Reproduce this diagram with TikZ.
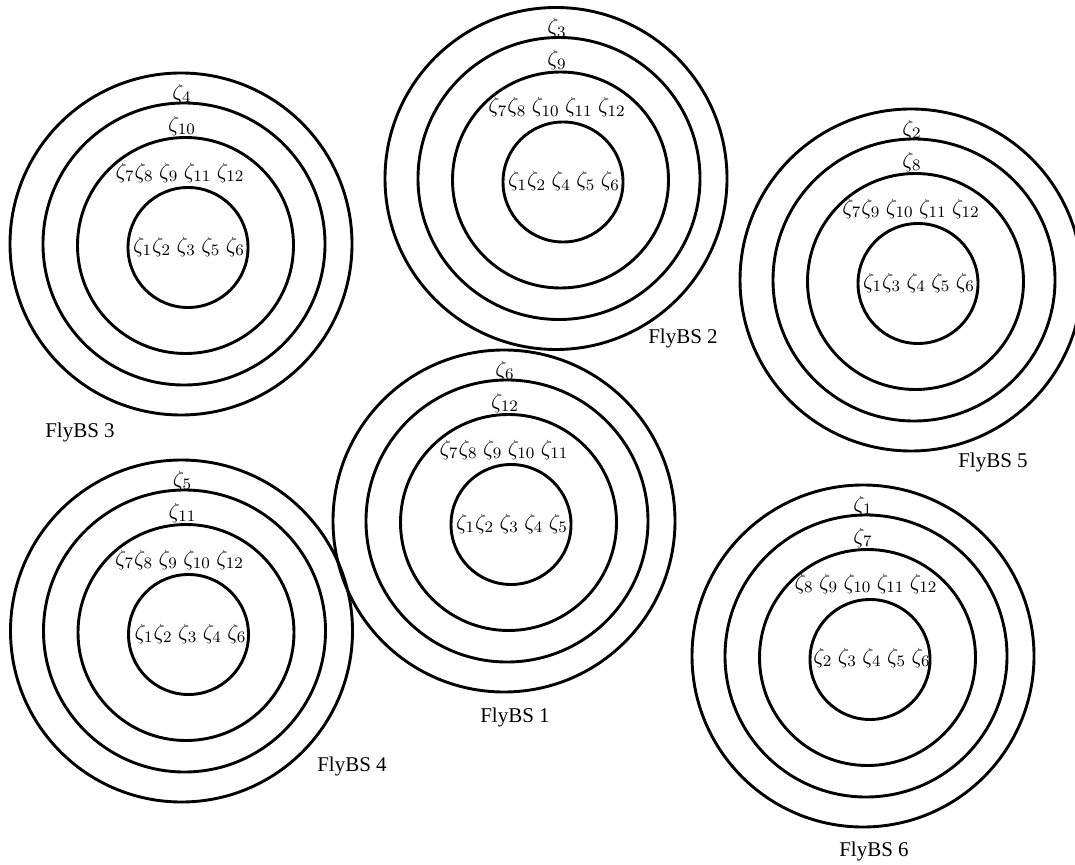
\documentclass[tikz,border=0pt]{standalone}
\usepackage{fontspec}
\setmainfont{Liberation Serif}
\usetikzlibrary{calc}

\begin{document}
\begin{tikzpicture}[
  x=0.5pt, y=-0.5pt,
  ring/.style={draw=black, line width=1.45pt},
  zlab/.style={inner sep=0pt, font=\fontsize{11}{13}\selectfont},
  bslab/.style={inner sep=0pt, font=\fontsize{10.5}{12}\selectfont},
]
\useasboundingbox (0,0) rectangle (1075,865);

% Station centres (outer ring)
\coordinate (s1) at (504,521);
\coordinate (s2) at (556,178.5);
\coordinate (s3) at (181,244);
\coordinate (s4) at (181.5,631);
\coordinate (s5) at (911,280);
\coordinate (s6) at (863,656);

% Concentric rings
\foreach \s in {s1,s2,s3,s4,s5,s6} {
  \draw[ring] (\s) circle[radius=171];
  \draw[ring] ($(\s)+(3,0)$) circle[radius=141];
  \draw[ring] ($(\s)+(4.5,1.5)$) circle[radius=108];
  \draw[ring] ($(\s)+(7,3.5)$) circle[radius=60];
}

% FlyBS 3
\node[zlab] (s3a) at ($(s3)+(1,-150)$) {$\zeta_4$};
\node[zlab] (s3b) at ($(s3)+(1,-118)$) {$\zeta_{10}$};
\node[zlab] (s3c) at ($(s3)+(-1,-71)$) {$\zeta_7\zeta_8\ \zeta_9\ \zeta_{11}\ \zeta_{12}$};
\node[zlab] (s3d) at ($(s3)+(8,3)$) {$\zeta_1\zeta_2\ \zeta_3\ \zeta_5\ \zeta_6$};
\node[bslab] (n3) at (80,432) {FlyBS 3};

% FlyBS 2
\node[zlab] (s2a) at ($(s2)+(1,-150)$) {$\zeta_3$};
\node[zlab] (s2b) at ($(s2)+(1,-118)$) {$\zeta_9$};
\node[zlab] (s2c) at ($(s2)+(1,-71)$) {$\zeta_7\zeta_8\ \zeta_{10}\ \zeta_{11}\ \zeta_{12}$};
\node[zlab] (s2d) at ($(s2)+(8,3)$) {$\zeta_1\zeta_2\ \zeta_4\ \zeta_5\ \zeta_6$};
\node[bslab] (n2) at (683,338) {FlyBS 2};

% FlyBS 5
\node[zlab] (s5a) at ($(s5)+(1,-150)$) {$\zeta_2$};
\node[zlab] (s5b) at ($(s5)+(1,-118)$) {$\zeta_8$};
\node[zlab] (s5c) at ($(s5)+(0,-71)$) {$\zeta_7\zeta_9\ \zeta_{10}\ \zeta_{11}\ \zeta_{12}$};
\node[zlab] (s5d) at ($(s5)+(8,3)$) {$\zeta_1\zeta_3\ \zeta_4\ \zeta_5\ \zeta_6$};
\node[bslab] (n5) at (993,462) {FlyBS 5};

% FlyBS 1
\node[zlab] (s1a) at ($(s1)+(1,-150)$) {$\zeta_6$};
\node[zlab] (s1b) at ($(s1)+(1,-118)$) {$\zeta_{12}$};
\node[zlab] (s1c) at ($(s1)+(0,-71)$) {$\zeta_7\zeta_8\ \zeta_9\ \zeta_{10}\ \zeta_{11}$};
\node[zlab] (s1d) at ($(s1)+(8,3)$) {$\zeta_1\zeta_2\ \zeta_3\ \zeta_4\ \zeta_5$};
\node[bslab] (n1) at (515,717) {FlyBS 1};

% FlyBS 4
\node[zlab] (s4a) at ($(s4)+(1,-150)$) {$\zeta_5$};
\node[zlab] (s4b) at ($(s4)+(1,-118)$) {$\zeta_{11}$};
\node[zlab] (s4c) at ($(s4)+(-2,-71)$) {$\zeta_7\zeta_8\ \zeta_9\ \zeta_{10}\ \zeta_{12}$};
\node[zlab] (s4d) at ($(s4)+(9,3)$) {$\zeta_1\zeta_2\ \zeta_3\ \zeta_4\ \zeta_6$};
\node[bslab] (n4) at (352,766) {FlyBS 4};

% FlyBS 6
\node[zlab] (s6a) at ($(s6)+(0,-150)$) {$\zeta_1$};
\node[zlab] (s6b) at ($(s6)+(0,-118)$) {$\zeta_7$};
\node[zlab] (s6c) at ($(s6)+(3,-72)$) {$\zeta_8\ \zeta_9\ \zeta_{10}\ \zeta_{11}\ \zeta_{12}$};
\node[zlab] (s6d) at ($(s6)+(9,2)$) {$\zeta_2\ \zeta_3\ \zeta_4\ \zeta_5\ \zeta_6$};
\node[bslab] (n6) at (874,851) {FlyBS 6};

\end{tikzpicture}
\end{document}
